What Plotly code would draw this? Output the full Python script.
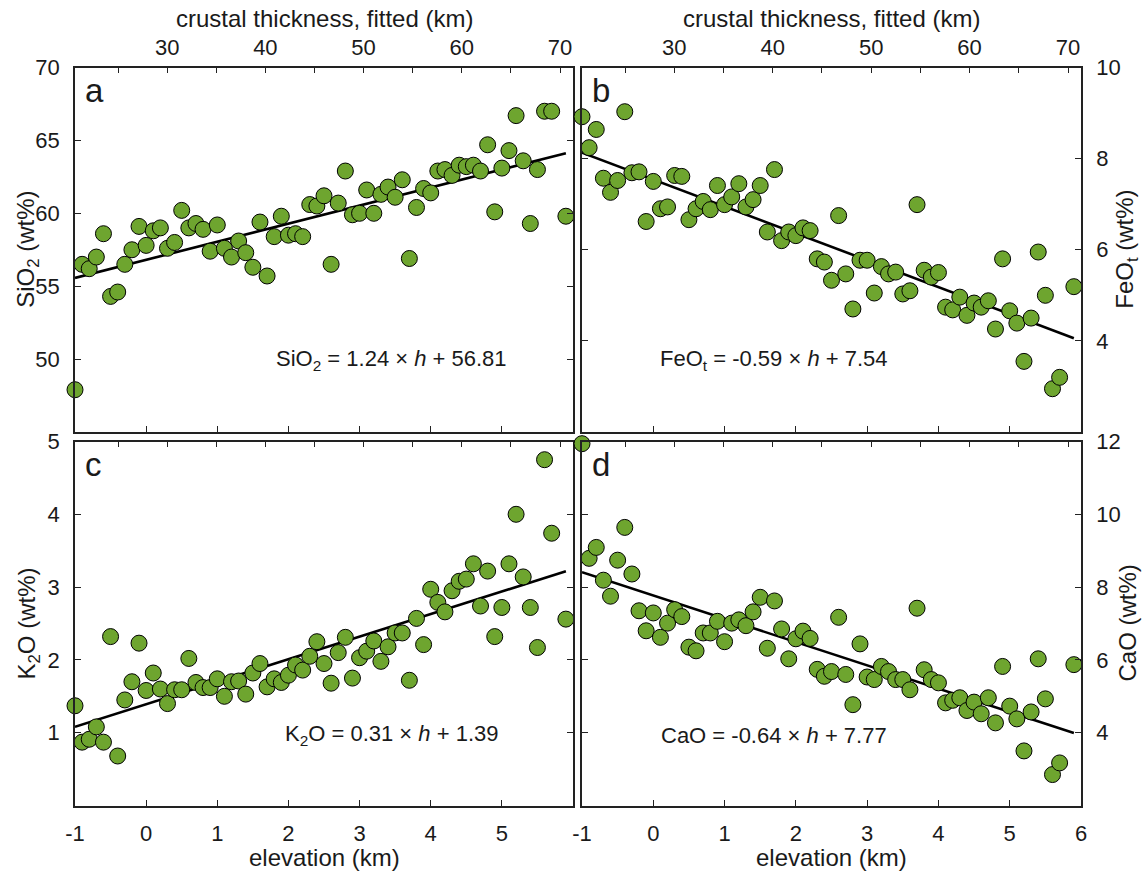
import plotly.graph_objects as go

# Elevation of each sample bin (km); shared by all four panels
elevation = [-1.0, -0.9, -0.8, -0.7, -0.6, -0.5, -0.4, -0.3, -0.2, -0.1,
             0.0, 0.1, 0.2, 0.3, 0.4, 0.5, 0.6, 0.7, 0.8, 0.9,
             1.0, 1.1, 1.2, 1.3, 1.4, 1.5, 1.6, 1.7, 1.8, 1.9,
             2.0, 2.1, 2.2, 2.3, 2.4, 2.5, 2.6, 2.7, 2.8, 2.9,
             3.0, 3.1, 3.2, 3.3, 3.4, 3.5, 3.6, 3.7, 3.8, 3.9,
             4.0, 4.1, 4.2, 4.3, 4.4, 4.5, 4.6, 4.7, 4.8, 4.9,
             5.0, 5.1, 5.2, 5.3, 5.4, 5.5, 5.6, 5.7, 5.9]

sio2 = [47.9, 56.5, 56.2, 57.0, 58.6, 54.3, 54.6, 56.5, 57.5, 59.1,
        57.8, 58.8, 59.0, 57.6, 58.0, 60.2, 59.0, 59.3, 58.9, 57.4,
        59.2, 57.6, 57.0, 58.1, 57.3, 56.3, 59.4, 55.7, 58.4, 59.8,
        58.5, 58.6, 58.4, 60.6, 60.5, 61.2, 56.5, 60.7, 62.9, 59.9,
        60.0, 61.6, 60.0, 61.3, 61.8, 61.1, 62.3, 56.9, 60.4, 61.7,
        61.4, 62.9, 63.0, 62.6, 63.3, 63.2, 63.3, 62.9, 64.7, 60.1,
        63.1, 64.3, 66.7, 63.6, 59.3, 63.0, 67.0, 67.0, 59.8]

feot = [8.92, 8.24, 8.64, 7.57, 7.26, 7.52, 9.03, 7.69, 7.71, 6.62,
        7.50, 6.90, 6.94, 7.63, 7.61, 6.66, 6.90, 7.06, 6.88, 7.41,
        6.99, 7.16, 7.45, 6.94, 7.10, 7.41, 6.39, 7.76, 6.20, 6.39,
        6.31, 6.48, 6.42, 5.80, 5.73, 5.33, 6.75, 5.47, 4.70, 5.77,
        5.77, 5.05, 5.63, 5.47, 5.51, 5.03, 5.10, 6.99, 5.55, 5.40,
        5.50, 4.74, 4.68, 4.96, 4.56, 4.83, 4.74, 4.88, 4.26, 5.80,
        4.66, 4.39, 3.55, 4.50, 5.95, 5.00, 2.95, 3.20, 5.19]

k2o = [1.37, 0.87, 0.91, 1.08, 0.87, 2.32, 0.68, 1.45, 1.70, 2.23,
       1.58, 1.82, 1.60, 1.40, 1.59, 1.59, 2.02, 1.69, 1.62, 1.62,
       1.74, 1.50, 1.70, 1.71, 1.53, 1.82, 1.95, 1.63, 1.74, 1.69,
       1.79, 1.93, 1.86, 2.05, 2.25, 1.95, 1.68, 2.10, 2.31, 1.75,
       2.03, 2.12, 2.26, 1.98, 2.18, 2.37, 2.37, 1.72, 2.57, 2.21,
       2.97, 2.79, 2.66, 2.95, 3.08, 3.11, 3.32, 2.74, 3.22, 2.32,
       2.72, 3.32, 4.00, 3.14, 2.72, 2.17, 4.75, 3.74, 2.56]

cao = [11.94, 8.79, 9.09, 8.19, 7.75, 8.74, 9.64, 8.36, 7.35, 6.80,
       7.29, 6.62, 7.01, 7.38, 7.19, 6.35, 6.25, 6.74, 6.74, 7.06,
       6.50, 7.01, 7.10, 6.94, 7.32, 7.72, 6.32, 7.62, 6.85, 6.03,
       6.58, 6.79, 6.59, 5.74, 5.55, 5.68, 7.17, 5.60, 4.77, 6.44,
       5.53, 5.46, 5.82, 5.68, 5.46, 5.46, 5.18, 7.42, 5.73, 5.46,
       5.37, 4.82, 4.89, 4.96, 4.61, 4.84, 4.52, 4.96, 4.27, 5.82,
       4.73, 4.38, 3.50, 4.57, 6.03, 4.93, 2.85, 3.17, 5.87]

# Linear fits against elevation h
slopes = [1.24, -0.59, 0.31, -0.64]
intercepts = [56.81, 7.54, 1.39, 7.77]
fit_span = [-1.0, 5.9]

panel_letters = ["a", "b", "c", "d"]
oxide_names = ["SiO<sub>2</sub>", "FeO<sub>t</sub>", "K<sub>2</sub>O", "CaO"]

# y-axis ticks per panel
y_ranges = [[45, 70], [2, 10], [0, 5], [2, 12]]
y_tickvals = [[50, 55, 60, 65, 70], [4, 6, 8, 10], [1, 2, 3, 4, 5], [4, 6, 8, 10, 12]]

# elevation axis ticks
elev_range = [-1, 6]
elev_tickvals_left = [-1, 0, 1, 2, 3, 4, 5]
elev_ticktext_left = ["-1", "0", "1", "2", "3", "4", "5"]
elev_tickvals_right = [-1, 0, 1, 2, 3, 4, 5, 6]
elev_ticktext_right = ["-1", "0", "1", "2", "3", "4", "5", "6"]

# crustal thickness (top) axis: tick marks every 5 km, labels every 10 km
thick_range = [20.62, 71.32]
thick_tickvals = [25, 30, 35, 40, 45, 50, 55, 60, 65, 70]
thick_labelvals = [30, 40, 50, 60, 70]

W, H = 1142, 880
FONT = "Liberation Sans, Arial, sans-serif"
INK = "#1a1a1a"
GREEN = "#6ea52f"

# plotting frames in pixels: (left, right, top, bottom)
frames = [(75, 573, 67.5, 432), (582, 1081, 67.5, 432),
          (75, 573, 441.5, 805.5), (582, 1081, 441.5, 805.5)]

fig = go.Figure()
series = [sio2, feot, k2o, cao]

for i in range(4):
    n = i + 1
    xa = "x" if n == 1 else f"x{n}"
    ya = "y" if n == 1 else f"y{n}"
    fit_y = [slopes[i] * h + intercepts[i] for h in fit_span]
    fig.add_trace(go.Scatter(x=fit_span, y=fit_y, mode="lines",
                             line=dict(color="black", width=2.6),
                             xaxis=xa, yaxis=ya, showlegend=False, hoverinfo="skip"))
    fig.add_trace(go.Scatter(x=elevation, y=series[i], mode="markers",
                             marker=dict(size=16, color=GREEN, line=dict(color="black", width=1)),
                             cliponaxis=False, xaxis=xa, yaxis=ya, showlegend=False))
    # empty traces so the overlaid thickness axes are drawn
    fig.add_trace(go.Scatter(x=[], y=[], xaxis=f"x{n + 4}", yaxis=ya,
                             showlegend=False, hoverinfo="skip"))
    if i < 2:
        fig.add_trace(go.Scatter(x=[], y=[], xaxis=f"x{n + 8}", yaxis=ya,
                                 showlegend=False, hoverinfo="skip"))

layout = dict(width=W, height=H, margin=dict(l=0, r=0, t=0, b=0, autoexpand=False),
              paper_bgcolor="white", plot_bgcolor="white",
              font=dict(family=FONT, color=INK, size=22), showlegend=False)

tick_font = dict(family=FONT, size=22, color=INK)
title_font = dict(family=FONT, size=24, color=INK)
common = dict(showgrid=False, zeroline=False, tickfont=tick_font, fixedrange=True,
              automargin=False)
inside_ticks = dict(showline=True, linecolor="#222", linewidth=1.6, ticks="inside",
                    ticklen=6, tickwidth=1.2, tickcolor="#222")

for i, (l, r, t, b) in enumerate(frames):
    n = i + 1
    suffix = "" if n == 1 else str(n)
    xdom = [l / W, r / W]
    ydom = [1 - b / H, 1 - t / H]
    bottom_row = i >= 2
    right_col = i % 2 == 1

    layout["xaxis" + suffix] = dict(
        domain=xdom, anchor="y" + suffix, range=elev_range, tickmode="array",
        tickvals=elev_tickvals_right if right_col else elev_tickvals_left,
        ticktext=elev_ticktext_right if right_col else elev_ticktext_left,
        showticklabels=bottom_row, ticklabelstandoff=7, **inside_ticks, **common)

    # inside tick marks of the thickness scale along every panel's top edge
    layout[f"xaxis{n + 4}"] = dict(
        overlaying="x" + suffix, anchor="y" + suffix, side="top", range=thick_range,
        tickmode="array", tickvals=thick_tickvals, showticklabels=False,
        **inside_ticks, **common)

    # labelled thickness scale above the upper panels
    if not bottom_row:
        layout[f"xaxis{n + 8}"] = dict(
            overlaying="x" + suffix, anchor="y" + suffix, side="top", range=thick_range,
            tickmode="array", tickvals=thick_labelvals, showline=False,
            ticks="outside", ticklen=3, tickcolor="rgba(0,0,0,0)", **common)

    layout["yaxis" + suffix] = dict(
        domain=ydom, anchor="x" + suffix, range=y_ranges[i], tickmode="array",
        tickvals=y_tickvals[i], mirror="ticks",
        side="right" if right_col else "left", ticklabelstandoff=9,
        **inside_ticks, **common)

fig.update_layout(**layout)

# axis titles, panel letters and fit equations
eq_centers = [(392, 360), (774, 360), (391, 735), (774, 735)]
for i, (l, r, t, b) in enumerate(frames):
    bottom_row = i >= 2
    right_col = i % 2 == 1
    cx_panel = (l + r) / 2
    cy_panel = (t + b) / 2

    if bottom_row:
        fig.add_annotation(x=cx_panel / W, y=1 - 857 / H, xref="paper", yref="paper",
                           text="elevation (km)", showarrow=False,
                           xanchor="center", yanchor="middle", font=title_font)
    else:
        fig.add_annotation(x=cx_panel / W, y=1 - 18 / H, xref="paper", yref="paper",
                           text="crustal thickness, fitted (km)", showarrow=False,
                           xanchor="center", yanchor="middle", font=title_font)

    fig.add_annotation(x=(1127 if right_col else 28) / W, y=1 - cy_panel / H,
                       xref="paper", yref="paper", text=oxide_names[i] + " (wt%)",
                       textangle=-90, showarrow=False, xanchor="center", yanchor="middle",
                       font=title_font)

    fig.add_annotation(x=(l + 8) / W, y=1 - (t + 23) / H, xref="paper", yref="paper",
                       text=panel_letters[i], showarrow=False, xanchor="left", yanchor="middle",
                       font=dict(family=FONT, size=33, color=INK))

    sign = "-" if slopes[i] < 0 else ""
    eq = f"{oxide_names[i]} = {sign}{abs(slopes[i]):.2f} × <i>h</i> + {intercepts[i]:.2f}"
    cx, cy = eq_centers[i]
    fig.add_annotation(x=cx / W, y=1 - cy / H, xref="paper", yref="paper", text=eq,
                       showarrow=False, xanchor="center", yanchor="middle",
                       font=dict(family=FONT, size=22, color=INK))

# the figure fills the page edge to edge
fig.write_html("out.html", post_script="document.body.style.margin = '0';")
